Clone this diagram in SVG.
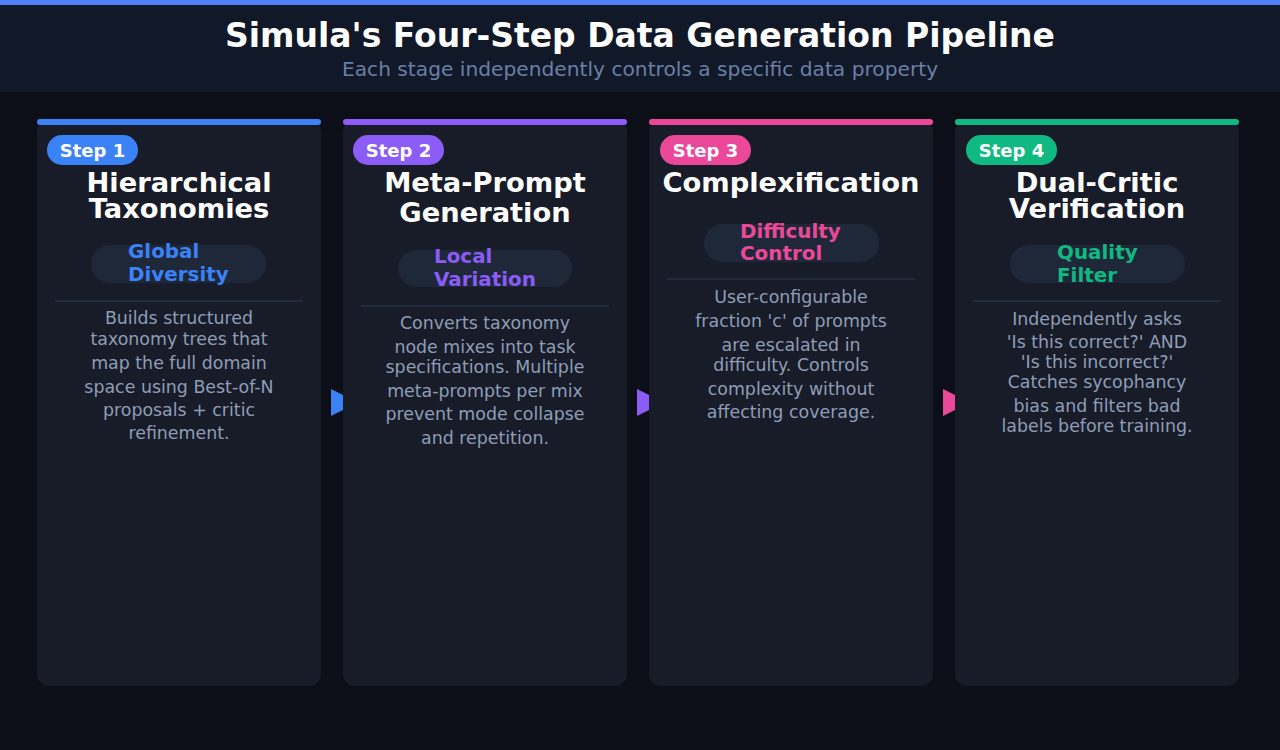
<svg xmlns="http://www.w3.org/2000/svg" width="1280" height="750" viewBox="0 0 1280 750">
<style>
.card{fill:#181c28}
.badge-t{font-family:"DejaVu Sans",sans-serif;font-weight:bold;font-size:18px;fill:#ffffff;text-anchor:middle}
.title{font-family:"DejaVu Sans",sans-serif;font-weight:bold;font-size:27.3px;fill:#ffffff;text-anchor:middle}
.pill{fill:#1e2838}
.pill-t{font-family:"DejaVu Sans",sans-serif;font-weight:bold;font-size:19.9px}
.div{stroke:#263042;stroke-width:1.5}
.desc{font-family:"DejaVu Sans",sans-serif;font-size:17.4px;fill:#8e9cb6;text-anchor:middle}
</style>
<rect x="0" y="0" width="1280" height="750" fill="#0c0f17"/>
<rect x="0" y="0" width="1280" height="92" fill="#111827"/>
<rect x="0" y="0" width="1280" height="5" fill="#5080f5"/>
<text x="640" y="47" font-family="DejaVu Sans, sans-serif" font-weight="bold" font-size="33" fill="#ffffff" text-anchor="middle">Simula's Four-Step Data Generation Pipeline</text>
<text x="640" y="76" font-family="DejaVu Sans, sans-serif" font-size="20.2" fill="#6a7fa6" text-anchor="middle">Each stage independently controls a specific data property</text>
<g id="connectors">
<polygon points="331,389 358,402.5 331,416" fill="#3b82f6"/>
<polygon points="637,389 664,402.5 637,416" fill="#8b5cf6"/>
<polygon points="943,389 970,402.5 943,416" fill="#ec4899"/>
</g>
<g id="step1">
<rect class="card" x="37" y="120" width="284" height="566" rx="12"/>
<rect x="37" y="119" width="284" height="6" rx="3" fill="#3b82f6"/>
<rect x="47" y="135" width="91" height="30" rx="15" fill="#3b82f6"/>
<text class="badge-t" x="92.5" y="157">Step 1</text>
<text class="title"><tspan x="179" y="192">Hierarchical</tspan><tspan x="179" y="218">Taxonomies</tspan></text>
<rect class="pill" x="91" y="245" width="175" height="38" rx="19"/>
<text class="pill-t" fill="#3b82f6"><tspan x="128" y="258">Global</tspan><tspan x="128" y="281">Diversity</tspan></text>
<line class="div" x1="55" y1="301" x2="303" y2="301"/>
<text class="desc" x="179" y="324">Builds structured</text>
<text class="desc" x="179" y="345">taxonomy trees that</text>
<text class="desc" x="179" y="369">map the full domain</text>
<text class="desc" x="179" y="393">space using Best-of-N</text>
<text class="desc" x="179" y="416">proposals + critic</text>
<text class="desc" x="179" y="439">refinement.</text>
</g>
<g id="step2">
<rect class="card" x="343" y="120" width="284" height="566" rx="12"/>
<rect x="343" y="119" width="284" height="6" rx="3" fill="#8b5cf6"/>
<rect x="353" y="135" width="91" height="30" rx="15" fill="#8b5cf6"/>
<text class="badge-t" x="398.5" y="157">Step 2</text>
<text class="title"><tspan x="485" y="192">Meta-Prompt</tspan><tspan x="485" y="222">Generation</tspan></text>
<rect class="pill" x="398" y="250" width="174" height="37" rx="18.5"/>
<text class="pill-t" fill="#8b5cf6"><tspan x="434" y="263">Local</tspan><tspan x="434" y="286">Variation</tspan></text>
<line class="div" x1="361" y1="306" x2="609" y2="306"/>
<text class="desc" x="485" y="329">Converts taxonomy</text>
<text class="desc" x="485" y="353">node mixes into task</text>
<text class="desc" x="485" y="373">specifications. Multiple</text>
<text class="desc" x="485" y="397">meta-prompts per mix</text>
<text class="desc" x="485" y="420">prevent mode collapse</text>
<text class="desc" x="485" y="444">and repetition.</text>
</g>
<g id="step3">
<rect class="card" x="649" y="120" width="284" height="566" rx="12"/>
<rect x="649" y="119" width="284" height="6" rx="3" fill="#ec4899"/>
<rect x="660" y="135" width="91" height="30" rx="15" fill="#ec4899"/>
<text class="badge-t" x="705.5" y="157">Step 3</text>
<text class="title" x="791" y="192">Complexification</text>
<rect class="pill" x="704" y="224" width="175" height="38" rx="19"/>
<text class="pill-t" fill="#ec4899"><tspan x="740" y="238">Difficulty</tspan><tspan x="740" y="260">Control</tspan></text>
<line class="div" x1="667" y1="279" x2="915" y2="279"/>
<text class="desc" x="791" y="303">User-configurable</text>
<text class="desc" x="791" y="327">fraction 'c' of prompts</text>
<text class="desc" x="791" y="351">are escalated in</text>
<text class="desc" x="791" y="371">difficulty. Controls</text>
<text class="desc" x="791" y="395">complexity without</text>
<text class="desc" x="791" y="418">affecting coverage.</text>
</g>
<g id="step4">
<rect class="card" x="955" y="120" width="284" height="566" rx="12"/>
<rect x="955" y="119" width="284" height="6" rx="3" fill="#10b981"/>
<rect x="966" y="135" width="91" height="30" rx="15" fill="#10b981"/>
<text class="badge-t" x="1011.5" y="157">Step 4</text>
<text class="title"><tspan x="1097" y="192">Dual-Critic</tspan><tspan x="1097" y="218">Verification</tspan></text>
<rect class="pill" x="1010" y="245" width="175" height="38" rx="19"/>
<text class="pill-t" fill="#10b981"><tspan x="1057" y="259">Quality</tspan><tspan x="1057" y="282">Filter</tspan></text>
<line class="div" x1="973" y1="301" x2="1221" y2="301"/>
<text class="desc" x="1097" y="325">Independently asks</text>
<text class="desc" x="1097" y="348">'Is this correct?' AND</text>
<text class="desc" x="1097" y="368">'Is this incorrect?'</text>
<text class="desc" x="1097" y="388">Catches sycophancy</text>
<text class="desc" x="1097" y="412">bias and filters bad</text>
<text class="desc" x="1097" y="432">labels before training.</text>
</g>
</svg>
